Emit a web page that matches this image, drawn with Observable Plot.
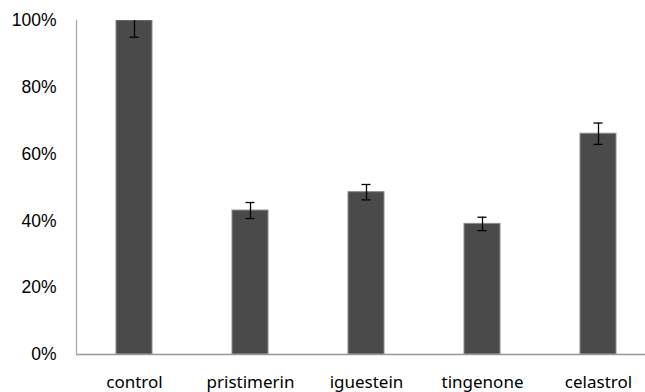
<!DOCTYPE html>
<html><head><meta charset="utf-8">
<script src="https://cdn.jsdelivr.net/npm/d3@7"></script>
<script src="https://cdn.jsdelivr.net/npm/@observablehq/plot@0.6"></script>
<style>
body{margin:0;background:#fff;}
svg{display:block;}
</style></head>
<body><div id="chart"></div>
<script>
const categories = ["control", "pristimerin", "iguestein", "tingenone", "celastrol"];
const values = [1.00, 0.431, 0.486, 0.391, 0.661];
const errors = [0.05, 0.024, 0.023, 0.02, 0.032];
const yTicks = [0, 0.2, 0.4, 0.6, 0.8, 1.0];

const data = categories.map((c, i) => ({cat: c, v: values[i], e: errors[i]}));

const chart = Plot.plot({
  width: 645, height: 392,
  marginLeft: 76, marginRight: 0, marginTop: 20, marginBottom: 38,
  style: {background: "#fff", color: "#000"},
  x: {domain: categories, range: [76, 656], paddingInner: 0.69, paddingOuter: 0.345, align: 0.5},
  y: {domain: [0, 1]},
  marks: [
    Plot.barY(data, {x: "cat", y: "v", fill: "#4a4a4a", stroke: "#8a8a8a", strokeWidth: 1, clip: true}),
    Plot.ruleX(data, {x: "cat", y1: d => d.v - d.e, y2: d => d.v + d.e, stroke: "#000", strokeWidth: 1.3, clip: true}),
    Plot.tickY(data, {x: "cat", y: d => d.v - d.e, stroke: "#000", strokeWidth: 1.3, insetLeft: 13.5, insetRight: 13.5, clip: true}),
    Plot.tickY(data, {x: "cat", y: d => d.v + d.e, stroke: "#000", strokeWidth: 1.3, insetLeft: 13.5, insetRight: 13.5, clip: true}),
    Plot.ruleY([0], {stroke: "#999", strokeWidth: 1.3}),
    Plot.frame({anchor: "left", stroke: "#aaa", strokeWidth: 1.3}),
    Plot.axisY({ticks: yTicks, tickFormat: d3.format(".0%"), tickSize: 0, tickPadding: 20,
      fontSize: 17.5, fontFamily: "Liberation Sans, Arial, sans-serif", label: null}),
    Plot.axisX({tickSize: 0, tickPadding: 21, fontSize: 17, fontFamily: "Noto Sans, Open Sans, sans-serif", label: null})
  ]
});
document.getElementById("chart").appendChild(chart);
</script>
</body></html>
